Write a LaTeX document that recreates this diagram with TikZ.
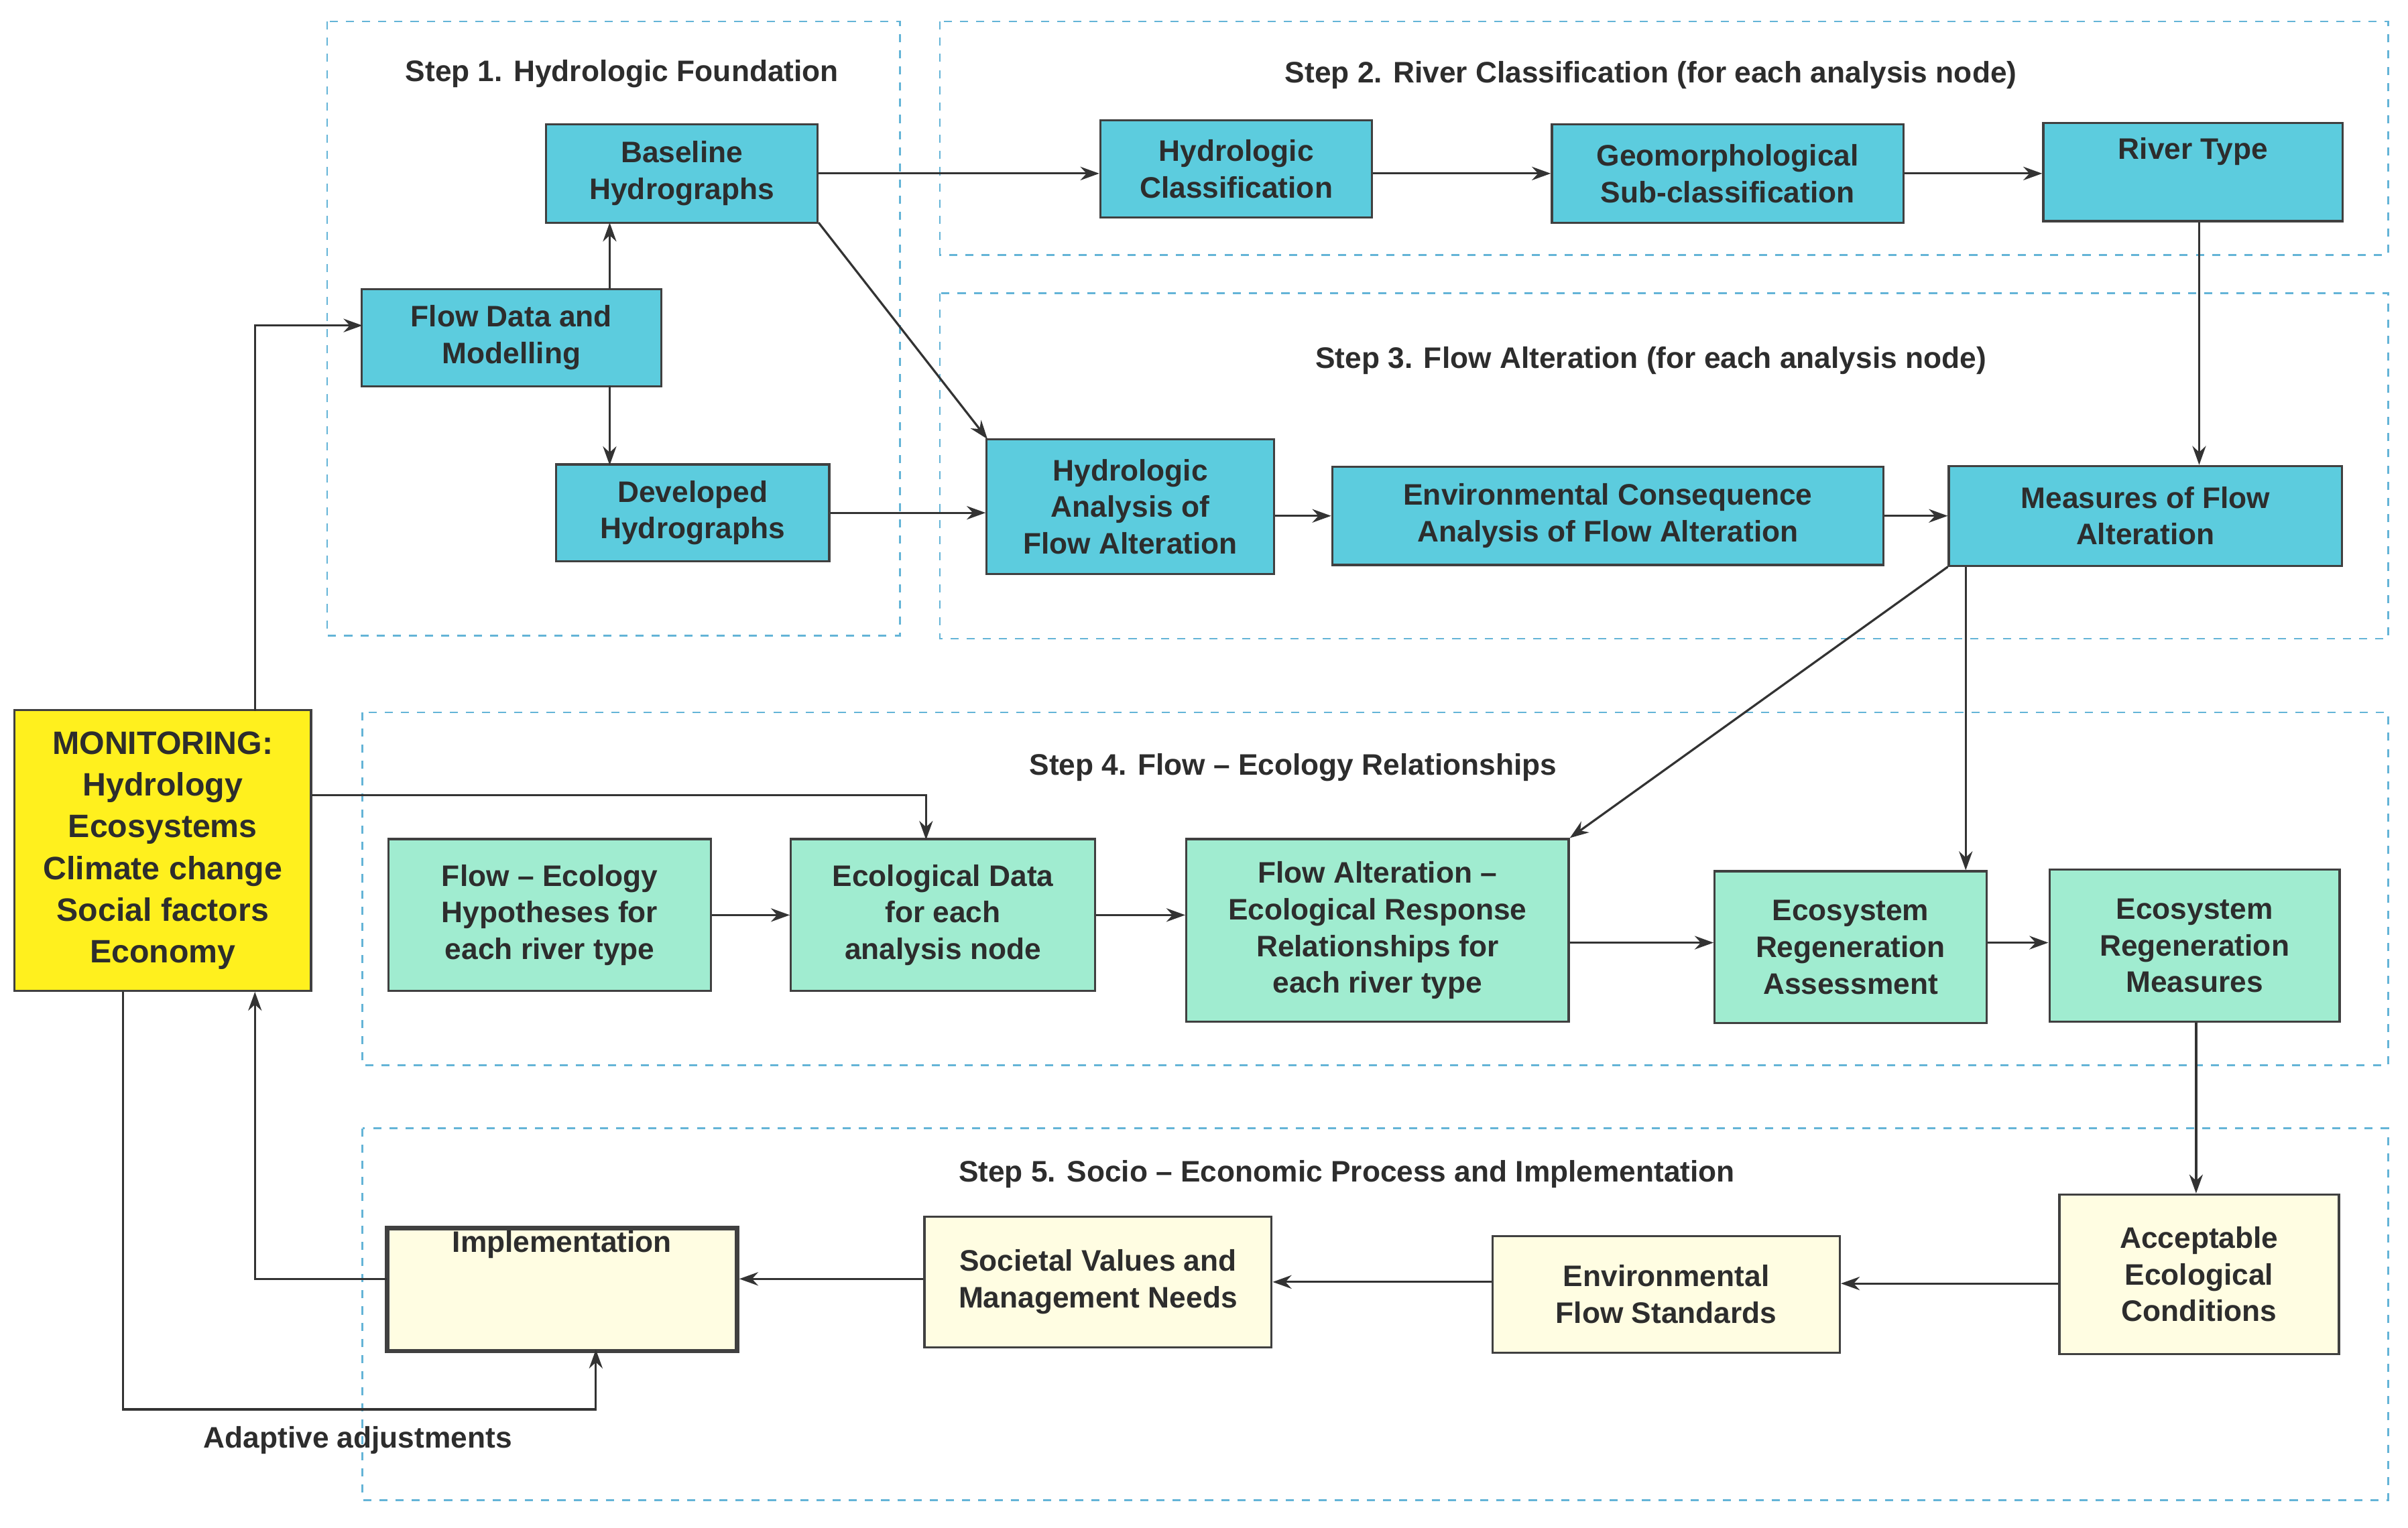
\documentclass[tikz,border=0pt]{standalone}
\usepackage{fontspec}
\setmainfont{Liberation Sans}
\usetikzlibrary{arrows.meta}
\definecolor{cyanbox}{RGB}{92,204,222}
\definecolor{greenbox}{RGB}{160,236,208}
\definecolor{creambox}{RGB}{255,253,226}
\definecolor{yellowbox}{RGB}{255,240,30}
\definecolor{dashblue}{RGB}{100,180,215}
\definecolor{txt}{RGB}{45,45,45}
\begin{document}
\begin{tikzpicture}[x=0.02cm,y=-0.02cm,
  font=\fontsize{11}{13.6}\selectfont\bfseries, text=txt,
  wh/.style 2 args={minimum width={#1*0.02cm},minimum height={#2*0.02cm}},
  base/.style={draw=black!75,line width=0.8pt,align=center,inner sep=1pt},
  cy/.style={base,fill=cyanbox},
  gr/.style={base,fill=greenbox},
  cr/.style={base,fill=creambox},
  region/.style={draw=dashblue,dashed,line width=0.7pt},
  arr/.style={-{Stealth[length=7pt,width=5pt]},line width=0.8pt,draw=black!80},
  title/.style={font=\fontsize{11}{13.6}\selectfont\bfseries}]
\useasboundingbox (0,0) rectangle (1568,995);
% regions
\draw[region] (213,14) rectangle (586,414);
\draw[region] (612,14) rectangle (1555,166);
\draw[region] (612,191) rectangle (1555,416);
\draw[region] (236,464) rectangle (1555,694);
\draw[region] (236,735) rectangle (1555,977);
\node[title] (t1) at (405,48) {Step 1. Hydrologic Foundation};
\node[title] (t2) at (1075,49) {Step 2. River Classification (for each analysis node)};
\node[title] (t3) at (1075,235) {Step 3. Flow Alteration (for each analysis node)};
\node[title] (t4) at (842,500) {Step 4. Flow -- Ecology Relationships};
\node[title] (t5) at (877,765) {Step 5. Socio -- Economic Process and Implementation};
% nodes
\node[cy,wh={177}{64}] (baseline) at (444,113) {Baseline\\Hydrographs};
\node[cy,wh={195}{63}] (flowdata) at (333,220) {Flow Data and\\Modelling};
\node[cy,wh={178}{63}] (developed) at (451,334) {Developed\\Hydrographs};
\node[cy,wh={177}{63}] (hclass) at (805,110) {Hydrologic\\Classification};
\node[cy,wh={229}{64}] (geo) at (1125,113) {Geomorphological\\Sub-classification};
\node[cy,wh={195}{64}] (river) at (1428,112) {River Type\\[4pt]};
\node[cy,wh={187}{88}] (hana) at (736,330) {Hydrologic\\Analysis of\\Flow Alteration};
\node[cy,wh={359}{64}] (env) at (1047,336) {Environmental Consequence\\Analysis of Flow Alteration};
\node[cy,wh={256}{65}] (meas) at (1397,336) {Measures of Flow\\Alteration};
\node[base,fill=yellowbox,wh={193}{183},font=\fontsize{12}{15.5}\selectfont\bfseries] (mon) at (106,554) {MONITORING:\\Hydrology\\Ecosystems\\Climate change\\Social factors\\Economy};
\node[gr,wh={210}{99}] (hyp) at (358,596) {Flow -- Ecology\\Hypotheses for\\each river type};
\node[gr,wh={198}{99}] (eco) at (614,596) {Ecological Data\\for each\\analysis node};
\node[gr,wh={249}{119}] (fa) at (897,606) {Flow Alteration --\\Ecological Response\\Relationships for\\each river type};
\node[gr,wh={177}{99}] (rass) at (1205,617) {Ecosystem\\Regeneration\\Assessment};
\node[gr,wh={189}{99}] (rmeas) at (1429,616) {Ecosystem\\Regeneration\\Measures};
\node[cr,wh={182}{104}] (acc) at (1432,830) {Acceptable\\Ecological\\Conditions};
\node[cr,wh={226}{76}] (efs) at (1085,843) {Environmental\\Flow Standards};
\node[cr,wh={226}{85}] (soc) at (715,835) {Societal Values and\\Management Needs};
\node[cr,wh={228}{78},line width=1.6pt] (impl) at (366,840) {Implementation\\[22pt]};
\node (adapt) at (233,938) {Adaptive adjustments};
% coordinates
\coordinate (fdT) at (397,188);
\coordinate (blB) at (397,145);
\coordinate (fdB) at (397,251);
\coordinate (dvT) at (397,303);
\coordinate (monT) at (166,463);
\coordinate (fdL) at (236,212);
\coordinate (monR) at (203,518);
\coordinate (ecoT) at (603,547);
\coordinate (monB2) at (166,646);
\coordinate (implL) at (252,833);
\coordinate (monB1) at (80,646);
\coordinate (implB) at (388,879);
% arrows
\draw[arr] (fdT) -- (blB);
\draw[arr] (fdB) -- (dvT);
\draw[arr] (monT) |- (fdL);
\draw[arr] (baseline.east |- 0,113) -- (hclass.west |- 0,113);
\draw[arr] (533,145) -- (643,286);
\draw[arr] (developed.east |- 0,334) -- (hana.west |- 0,334);
\draw[arr] (hclass.east |- 0,113) -- (geo.west |- 0,113);
\draw[arr] (geo.east |- 0,113) -- (river.west |- 0,113);
\draw[arr] (river.south -| 1432,0) -- (meas.north -| 1432,0);
\draw[arr] (hana.east |- 0,336) -- (env.west |- 0,336);
\draw[arr] (env) -- (meas);
\draw[arr] (meas.south west) -- (fa.north east);
\draw[arr] (meas.south -| 1280,0) -- (rass.north -| 1280,0);
\draw[arr] (monR) -| (ecoT);
\draw[arr] (hyp) -- (eco);
\draw[arr] (eco) -- (fa.west |- eco);
\draw[arr] (fa.east |- 0,614) -- (rass.west |- 0,614);
\draw[arr] (rass.east |- 0,614) -- (rmeas.west |- 0,614);
\draw[arr] (rmeas.south -| 1430,0) -- (acc.north -| 1430,0);
\draw[arr] (acc.west |- 0,836) -- (efs.east |- 0,836);
\draw[arr] (efs.west |- 0,835) -- (soc.east |- 0,835);
\draw[arr] (soc.west |- 0,833) -- (impl.east |- 0,833);
\draw[arr] (implL) -| (monB2);
\draw[arr] (monB1) |- (388,918) -- (implB);
\end{tikzpicture}
\end{document}
